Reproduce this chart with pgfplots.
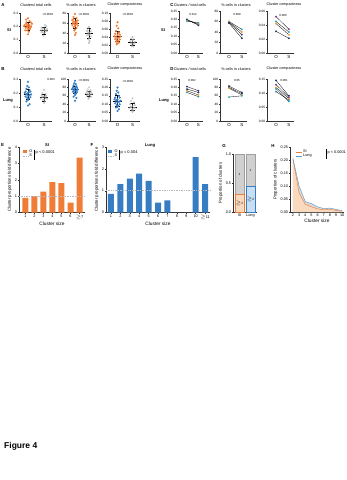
\documentclass[border=0pt]{standalone}
\usepackage{fontspec}
\setmainfont{Liberation Sans}
\usepackage{pgfplots}
\pgfplotsset{compat=1.18}
\definecolor{orgO}{RGB}{240,125,55}
\definecolor{bluO}{RGB}{55,125,195}
\definecolor{peach}{RGB}{250,218,190}
\definecolor{lblue}{RGB}{200,222,245}
\definecolor{gbar}{RGB}{208,208,208}
\definecolor{da}{RGB}{55,45,125}
\definecolor{db}{RGB}{40,170,170}
\definecolor{dc}{RGB}{245,160,40}
\definecolor{dd}{RGB}{30,50,100}
\definecolor{de}{RGB}{120,60,160}
\newcommand{\fs}[1]{\fontsize{#1}{#1}\selectfont}
\pgfplotsset{
 g/.style={scale only axis, anchor=south west, axis lines*=left,
   axis line style={-, line width=0.35pt, black!80},
   tick style={line width=0.3pt, black!80}, tick align=outside, major tick length=1.1pt,
   tick label style={font=\fs{3.2}, inner sep=0.6pt}, label style={font=\fs{4.4}},
   scaled y ticks=false,
   /pgf/number format/assume math mode=true, clip=false, ymin=0},
 dp/.style={g, xmin=0.5, xmax=2.5, xtick={1,2}, xticklabels={O,S}, x tick label style={font=\fs{4.4}, inner sep=1.2pt}},
 cp/.style={g, xmin=0.3, xmax=2.4, xtick={1,2}, xticklabels={O,S}, x tick label style={font=\fs{4.4}, inner sep=1.2pt}},
 big/.style={x tick label style={font=\fs{3.8}}, y tick label style={font=\fs{3.8}}, xlabel style={font=\fs{4.8}, yshift=1.5pt}, ylabel style={font=\fs{4.3}, yshift=-1pt}},
 p1/.style={yticklabel style={/pgf/number format/fixed, /pgf/number format/fixed zerofill, /pgf/number format/precision=1}},
 p2/.style={yticklabel style={/pgf/number format/fixed, /pgf/number format/fixed zerofill, /pgf/number format/precision=2}},
 oO/.style={only marks, mark=*, mark size=0.85pt, mark options={draw=orgO, fill=orgO}},
 oB/.style={only marks, mark=*, mark size=0.85pt, mark options={draw=bluO, fill=bluO}},
 oS/.style={only marks, mark=o, mark size=0.85pt, mark options={draw=gray!65, line width=0.25pt}},
 lline/.style={legend image code/.code={\draw[##1] (0pt,0pt) -- (6pt,0pt);}},
 lbox/.style={legend image code/.code={\fill[##1] (0pt,-1.6pt) rectangle (4pt,1.6pt);}},
 leg/.style={legend cell align=left, legend style={draw=none, fill=none, font=\fs{3.8}, inner sep=0pt, row sep=-0.8pt, nodes={inner sep=0.6pt}, anchor=north west}},
}
\newcommand{\msdO}[3]{%
\addplot[black, line width=0.4pt] coordinates {(0.72,#1) (1.28,#1)};
\addplot[black, line width=0.3pt] coordinates {(1,#2) (1,#3)};
\addplot[black, line width=0.3pt] coordinates {(0.86,#2) (1.14,#2)};
\addplot[black, line width=0.3pt] coordinates {(0.86,#3) (1.14,#3)};}
\newcommand{\msdS}[3]{%
\addplot[black, line width=0.4pt] coordinates {(1.72,#1) (2.28,#1)};
\addplot[black, line width=0.3pt] coordinates {(2,#2) (2,#3)};
\addplot[black, line width=0.3pt] coordinates {(1.86,#2) (2.14,#2)};
\addplot[black, line width=0.3pt] coordinates {(1.86,#3) (2.14,#3)};}
\newcommand{\pr}[3]{\addplot[black, line width=0.3pt, mark=*, mark size=0.8pt, mark options={draw=#1, fill=#1}] coordinates {(1,#2) (2,#3)};}
\begin{document}
\begin{tikzpicture}
\path[use as bounding box] (0pt,0pt) rectangle (347pt,-480pt);
% ---------- panel labels and texts
\begin{scope}[every node/.style={font=\bfseries\fs{4.4}}]
\node at (3pt,-5pt) {A}; \node at (3pt,-69pt) {B};
\node at (172pt,-5pt) {C}; \node at (172pt,-69pt) {D};
\node at (2.5pt,-145pt) {E}; \node at (92pt,-145pt) {F};
\node at (224pt,-146pt) {G}; \node at (273pt,-146pt) {H};
\end{scope}
\begin{scope}[every node/.style={font=\bfseries\fs{4}}]
\node at (9pt,-30pt) {SI}; \node at (8pt,-101pt) {Lung};
\node at (163pt,-30pt) {SI}; \node at (164pt,-101pt) {Lung};
\end{scope}
\begin{scope}[every node/.style={font=\fs{3.7}}]
\node at (36pt,-5pt) {Clusters/ total cells};
\node at (81pt,-5pt) {\% cells in clusters};
\node at (125pt,-5pt) {Cluster compactness};
\node at (36pt,-69pt) {Clusters/ total cells};
\node at (81pt,-69pt) {\% cells in clusters};
\node at (125pt,-69pt) {Cluster compactness};
\node at (190pt,-5pt) {Clusters / total cells};
\node at (236pt,-5pt) {\% cells in clusters};
\node at (284pt,-5pt) {Cluster compactness};
\node at (190pt,-69pt) {Clusters / total cells};
\node at (236pt,-69pt) {\% cells in clusters};
\node at (284pt,-69pt) {Cluster compactness};
\end{scope}
\begin{scope}[every node/.style={font=\fs{2.9}}]
\node at (48pt,-14pt) {<0.0001}; \node at (84pt,-14pt) {<0.0001}; \node at (128pt,-14pt) {<0.0001};
\node at (51pt,-79pt) {0.003}; \node at (84pt,-80pt) {<0.0001}; \node at (128pt,-81pt) {<0.0001};
\node at (193pt,-14pt) {0.012}; \node at (237pt,-14pt) {0.008}; \node at (283pt,-15pt) {0.006};
\node at (192pt,-80pt) {0.002}; \node at (237pt,-80pt) {0.05}; \node at (284pt,-80pt) {0.001};
\end{scope}
% ---------- A
\begin{axis}[dp, p1, at={(20pt,-53pt)}, width=32pt, height=40pt, ymax=0.3, ytick={0,0.1,0.2,0.3}]
\addplot[oO] coordinates {(0.8,0.21)(0.9,0.22)(1.0,0.20)(1.1,0.21)(1.2,0.20)(0.85,0.19)(0.95,0.19)(1.05,0.18)(1.15,0.19)(0.75,0.20)(1.25,0.22)(0.9,0.23)(1.1,0.24)(1.0,0.26)(0.95,0.17)(1.05,0.16)(1.0,0.14)(0.88,0.25)(1.12,0.18)(0.82,0.17)(1.18,0.23)(1.0,0.215)(0.92,0.205)(1.08,0.195)};
\addplot[oS] coordinates {(1.8,0.17)(1.9,0.18)(2.0,0.17)(2.1,0.16)(2.2,0.18)(1.85,0.19)(2.15,0.20)(2.0,0.15)(1.95,0.13)(2.05,0.21)(1.9,0.16)(2.1,0.175)(2.0,0.185)(1.85,0.155)(2.2,0.165)};
\msdO{0.20}{0.17}{0.23}\msdS{0.17}{0.145}{0.195}
\end{axis}
\begin{axis}[dp, at={(68pt,-53pt)}, width=28pt, height=40pt, ymax=80, ytick={0,20,40,60,80}]
\addplot[oO] coordinates {(1.0,78)(0.9,72)(1.1,70)(0.8,66)(1.2,65)(0.9,63)(1.0,62)(1.1,61)(0.85,60)(1.15,59)(0.95,58)(1.05,57)(0.8,56)(1.2,55)(1.0,54)(0.9,52)(1.1,50)(1.0,47)(0.95,45)(1.05,40)(1.0,36)(0.9,68)(1.1,64)};
\addplot[oS] coordinates {(2.0,52)(1.9,49)(2.1,47)(1.85,44)(2.15,43)(2.0,41)(1.9,39)(2.1,38)(2.0,36)(1.85,35)(2.15,33)(2.0,30)(1.95,27)(2.05,24)(2.0,20)(1.9,45)};
\msdO{60}{50}{70}\msdS{40}{30}{50}
\end{axis}
\begin{axis}[dp, p2, at={(110pt,-53pt)}, width=30pt, height=40pt, ymax=0.1, ytick={0,0.02,0.04,0.06,0.08,0.1}]
\addplot[oO] coordinates {(1.0,0.077)(0.95,0.068)(1.05,0.062)(0.9,0.055)(1.1,0.052)(0.85,0.048)(1.15,0.046)(1.0,0.045)(0.8,0.042)(1.2,0.041)(0.9,0.04)(1.1,0.039)(1.0,0.037)(0.85,0.035)(1.15,0.034)(0.95,0.032)(1.05,0.03)(0.9,0.028)(1.1,0.026)(1.0,0.024)(0.95,0.022)(1.05,0.05)};
\addplot[oS] coordinates {(2.0,0.04)(1.9,0.036)(2.1,0.034)(2.0,0.031)(1.85,0.029)(2.15,0.028)(2.0,0.026)(1.9,0.024)(2.1,0.023)(2.0,0.021)(1.95,0.018)(2.05,0.016)(2.0,0.033)};
\msdO{0.042}{0.030}{0.054}\msdS{0.027}{0.019}{0.035}
\end{axis}
% ---------- B
\begin{axis}[dp, p1, at={(20pt,-121pt)}, width=32pt, height=42pt, ymax=0.3, ytick={0,0.1,0.2,0.3}]
\addplot[oB] coordinates {(1.0,0.28)(0.95,0.25)(1.05,0.24)(0.9,0.23)(1.1,0.22)(0.85,0.21)(1.15,0.21)(1.0,0.2)(0.8,0.2)(1.2,0.19)(0.9,0.19)(1.1,0.185)(1.0,0.18)(0.85,0.175)(1.15,0.17)(0.95,0.165)(1.05,0.16)(1.0,0.15)(0.9,0.14)(1.1,0.12)(1.0,0.11)(0.95,0.195)(1.05,0.205)};
\addplot[oS] coordinates {(2.0,0.22)(1.9,0.2)(2.1,0.195)(1.85,0.185)(2.15,0.18)(2.0,0.175)(1.9,0.17)(2.1,0.165)(1.8,0.16)(2.2,0.16)(2.0,0.155)(1.95,0.15)(2.05,0.14)(2.0,0.13)(1.9,0.175)(2.1,0.18)};
\msdO{0.19}{0.155}{0.225}\msdS{0.17}{0.145}{0.195}
\end{axis}
\begin{axis}[dp, at={(68pt,-121pt)}, width=28pt, height=42pt, ymax=100, ytick={0,20,40,60,80,100}]
\addplot[oB] coordinates {(1.0,96)(0.95,90)(1.05,88)(0.9,85)(1.1,83)(0.85,80)(1.15,79)(1.0,78)(0.8,76)(1.2,75)(0.9,74)(1.1,73)(1.0,72)(0.85,70)(1.15,69)(0.95,67)(1.05,65)(1.0,62)(0.9,58)(1.1,55)(1.0,48)(0.95,77)(1.05,81)};
\addplot[oS] coordinates {(2.0,80)(1.9,75)(2.1,73)(1.85,70)(2.15,69)(2.0,67)(1.8,66)(2.2,65)(1.9,64)(2.1,63)(2.0,62)(1.85,60)(2.15,58)(2.0,56)(1.95,53)(2.05,68)(1.9,71)};
\msdO{75}{66}{84}\msdS{65}{58}{72}
\end{axis}
\begin{axis}[dp, p2, at={(110pt,-121pt)}, width=30pt, height=42pt, ymax=0.25, ytick={0,0.05,0.1,0.15,0.2,0.25}]
\addplot[oB] coordinates {(1.0,0.2)(0.95,0.18)(1.05,0.17)(0.9,0.16)(1.1,0.15)(0.85,0.14)(1.15,0.14)(1.0,0.13)(0.8,0.13)(1.2,0.12)(0.9,0.12)(1.1,0.115)(1.0,0.11)(0.85,0.105)(1.15,0.1)(0.95,0.095)(1.05,0.09)(1.0,0.085)(0.9,0.08)(1.1,0.07)(1.0,0.06)(0.95,0.125)};
\addplot[oS] coordinates {(2.0,0.135)(1.9,0.12)(2.1,0.11)(1.85,0.1)(2.15,0.095)(2.0,0.09)(1.9,0.085)(2.1,0.08)(1.8,0.078)(2.2,0.075)(2.0,0.07)(1.95,0.065)(2.05,0.06)(2.0,0.055)(1.9,0.08)};
\msdO{0.12}{0.087}{0.153}\msdS{0.085}{0.065}{0.105}
\end{axis}
% ---------- C
\begin{axis}[cp, p2, at={(179pt,-53pt)}, width=24pt, height=42pt, ymax=0.25, ytick={0,0.05,0.1,0.15,0.2,0.25}]
\pr{dd}{0.2}{0.165}\pr{da}{0.197}{0.17}\pr{dc}{0.193}{0.175}\pr{db}{0.19}{0.18}
\end{axis}
\begin{axis}[cp, at={(220pt,-53pt)}, width=27pt, height=42pt, ymax=80, ytick={0,20,40,60,80}]
\pr{db}{60}{45}\pr{dc}{59}{40}\pr{da}{58}{35}\pr{dd}{57}{28}
\end{axis}
\begin{axis}[cp, p2, at={(267pt,-53pt)}, width=27pt, height=42pt, ymax=0.06, ytick={0,0.02,0.04,0.06}]
\pr{de}{0.052}{0.034}\pr{db}{0.045}{0.030}\pr{dc}{0.042}{0.026}\pr{dd}{0.031}{0.021}
\end{axis}
% ---------- D
\begin{axis}[cp, p2, at={(179pt,-121pt)}, width=24pt, height=42pt, ymax=0.25, ytick={0,0.05,0.1,0.15,0.2,0.25}]
\pr{da}{0.205}{0.18}\pr{dd}{0.19}{0.17}\pr{dc}{0.18}{0.155}\pr{db}{0.17}{0.145}
\end{axis}
\begin{axis}[cp, at={(220pt,-121pt)}, width=27pt, height=42pt, ymax=100, ytick={0,20,40,60,80,100}]
\pr{dd}{83}{68}\pr{da}{80}{65}\pr{dc}{78}{62}\pr{db}{57}{60}
\end{axis}
\begin{axis}[cp, p2, at={(267pt,-121pt)}, width=27pt, height=42pt, ymax=0.15, ytick={0,0.05,0.1,0.15}]
\pr{dd}{0.145}{0.09}\pr{de}{0.13}{0.085}\pr{dc}{0.12}{0.08}\pr{db}{0.115}{0.07}\pr{bluO}{0.105}{0.075}
\end{axis}
% ---------- E
\begin{axis}[g, big, leg, at={(19pt,-212.5pt)}, width=66pt, height=65.5pt, xmin=0.3, xmax=7.6, ymax=4,
  ytick={0,1,2,3,4}, xtick={1,2,3,4,5,6,7}, xticklabels={1,2,3,4,5,6,{$\geq$7}},
  xlabel={Cluster size}, ylabel={Cluster proportions fold difference},
  legend style={at={(0.05,0.97)}}]
\addplot[ybar, bar width=6pt, fill=orgO, draw=none, lbox] coordinates {(1,0.9) (2,1.0) (3,1.27) (4,1.85) (5,1.8) (6,0.6) (7,3.35)};
\addlegendentry{O}
\addplot[gray!55, line width=0.35pt, dash pattern=on 0.9pt off 0.8pt, lline] coordinates {(0.3,1) (7.6,1)};
\addlegendentry{S}
\end{axis}
\draw[line width=0.3pt] (34pt,-149.5pt) -- (34pt,-160pt);
\node[font=\fs{4}, anchor=west, inner sep=0.5pt] at (35pt,-153pt) {p < 0.0001};
\node[font=\bfseries\fs{4.1}] at (47pt,-145.5pt) {SI};
% ---------- F
\begin{axis}[g, big, leg, at={(106pt,-212.5pt)}, width=104pt, height=65.5pt, xmin=0.47, xmax=11.53, ymax=3,
  ytick={0,1,2,3}, xtick={1,2,3,4,5,6,7,8,9,10,11}, xticklabels={1,2,3,4,5,6,7,8,9,10,{$\geq$11}},
  xlabel={Cluster size}, ylabel={Cluster proportions fold difference},
  legend style={at={(0.015,0.97)}}]
\addplot[ybar, bar width=6pt, fill=bluO, draw=none, lbox] coordinates {(1,0.85) (2,1.3) (3,1.55) (4,1.78) (5,1.45) (6,0.45) (7,0.55) (8,0) (9,0) (10,2.54) (11,1.3)};
\addlegendentry{O}
\addplot[gray!55, line width=0.35pt, dash pattern=on 0.9pt off 0.8pt, lline] coordinates {(0.47,1) (11.53,1)};
\addlegendentry{S}
\end{axis}
\draw[line width=0.3pt] (119pt,-149.5pt) -- (119pt,-160pt);
\node[font=\fs{4}, anchor=west, inner sep=0.5pt] at (120pt,-153pt) {p = 0.004};
\node[font=\bfseries\fs{4.1}] at (150pt,-145.5pt) {Lung};
% ---------- G
\begin{axis}[g, big, p1, at={(233pt,-212pt)}, width=24pt, height=58pt, ymax=1, ytick={0,0.5,1},
  xmin=0.4, xmax=2.6, xtick={1,2}, xticklabels={SI,Lung}, ylabel={Proportion of clusters}]
\addplot[ybar, bar width=9pt, fill=gbar, draw=gray!75, line width=0.3pt] coordinates {(1,1) (2,1)};
\addplot[ybar, bar width=9pt, fill=peach, draw=orgO, line width=0.3pt] coordinates {(1,0.3)};
\addplot[ybar, bar width=9pt, fill=lblue, draw=bluO, line width=0.3pt] coordinates {(2,0.45)};
\node[font=\fs{3.2}] at (axis cs:1,0.65) {1};
\node[font=\fs{3.2}] at (axis cs:2,0.72) {1};
\node[font=\fs{3.2}] at (axis cs:1,0.15) {$\geq$2};
\node[font=\fs{3.2}] at (axis cs:2,0.22) {$\geq$2};
\end{axis}
% ---------- H
\begin{axis}[g, big, p2, leg, at={(290pt,-212pt)}, width=54pt, height=65pt, xmin=1.52, xmax=10.3, ymax=0.25,
  ytick={0,0.05,0.1,0.15,0.2,0.25}, xtick={2,3,4,5,6,7,8,9,10},
  xlabel={Cluster size}, ylabel={Proportion of clusters},
  legend style={at={(0.11,0.97)}}]
\addplot[fill=gray!28, draw=none, forget plot] coordinates {(2,0.205)(3,0.1)(4,0.04)(5,0.032)(6,0.02)(7,0.013)(8,0.015)(9,0.01)(10,0.005)} \closedcycle;
\addplot[fill=peach, draw=none, forget plot] coordinates {(2,0.205)(3,0.073)(4,0.03)(5,0.02)(6,0.012)(7,0.008)(8,0.01)(9,0.006)(10,0.003)} \closedcycle;
\addplot[orgO, line width=0.45pt, lline] coordinates {(2,0.205)(3,0.073)(4,0.03)(5,0.02)(6,0.012)(7,0.008)(8,0.01)(9,0.006)(10,0.003)};
\addlegendentry{SI}
\addplot[bluO!80, line width=0.45pt, lline] coordinates {(2,0.205)(3,0.1)(4,0.04)(5,0.032)(6,0.02)(7,0.013)(8,0.015)(9,0.01)(10,0.005)};
\addlegendentry{Lung}
\end{axis}
\draw[line width=0.3pt] (326pt,-149pt) -- (326pt,-159pt);
\node[font=\fs{3.8}, anchor=west, inner sep=0.5pt] at (327pt,-153pt) {p < 0.0001};
% ---------- footer
\node[font=\bfseries\fs{8.5}, anchor=west, inner sep=0pt] at (4pt,-446pt) {Figure 4};
\end{tikzpicture}
\end{document}
